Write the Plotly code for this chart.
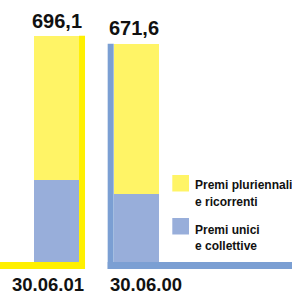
import plotly.graph_objects as go

# ---- data ----
categories = ["30.06.01", "30.06.00"]
premi_unici = [252.0, 209.0]            # blue, bottom segment
premi_pluriennali = [444.1, 462.6]      # yellow, top segment
totals = [696.1, 671.6]
legend_lines = [["Premi pluriennali", "e ricorrenti"], ["Premi unici", "e collettive"]]
series_names = ["Premi pluriennali e ricorrenti", "Premi unici e collettive"]

# ---- styles ----
YELLOW = "#FFF466"
BLUE = "#98AEDA"
ACC_YELLOW = "#FFF000"
ACC_BLUE = "#7B9FD3"
accents = [ACC_YELLOW, ACC_BLUE]
accent_side = [1, -1]          # strip on right of bar 1, left of bar 2
FONT = "Liberation Sans, Arial, sans-serif"

W, H = 292, 295
MB = 26
PH = H - MB
BAR_W = 0.565
XR = [-0.709, 2.955]
YR = [-21.5, 805.9]
PX_PER_X = W / (XR[1] - XR[0])
STRIP = 6 / PX_PER_X

fig = go.Figure()
fig.add_trace(go.Bar(x=categories, y=premi_unici, name=series_names[1],
                     marker=dict(color=BLUE, line=dict(width=0)), width=BAR_W,
                     showlegend=False))
fig.add_trace(go.Bar(x=categories, y=premi_pluriennali, name=series_names[0],
                     marker=dict(color=YELLOW, line=dict(width=0)), width=BAR_W,
                     showlegend=False))

shapes = []
for i, tot in enumerate(totals):
    if accent_side[i] > 0:
        sx0, sx1 = i + BAR_W / 2, i + BAR_W / 2 + STRIP
        lx0, lx1 = XR[0], sx1
    else:
        sx0, sx1 = i - BAR_W / 2 - STRIP, i - BAR_W / 2
        lx0, lx1 = sx0, XR[1]
    shapes.append(dict(type="rect", xref="x", yref="y", x0=sx0, x1=sx1, y0=YR[0], y1=tot,
                       fillcolor=accents[i], line=dict(width=0), layer="above"))
    shapes.append(dict(type="rect", xref="x", yref="y", x0=lx0, x1=lx1, y0=YR[0], y1=0,
                       fillcolor=accents[i], line=dict(width=0), layer="above"))

annotations = []
val_xshift = [0.5, -2]
lab_xshift = [-8.5, 10]
for i, tot in enumerate(totals):
    annotations.append(dict(x=i, y=tot, xref="x", yref="y", text=f"{tot:.1f}".replace(".", ","),
                            showarrow=False, yanchor="bottom", yshift=2.2, xshift=val_xshift[i],
                            font=dict(family=FONT, size=20, color="#111111", weight="bold")))
    annotations.append(dict(x=i, y=0, xref="x", yref="paper", text=categories[i],
                            showarrow=False, yanchor="top", yshift=-2.5, xshift=lab_xshift[i],
                            font=dict(family=FONT, size=18.5, color="#111111", weight="bold")))

# manual legend (square top px, baselines px)
leg = [(YELLOW, 175, [190.7, 207.7]), (BLUE, 218, [235, 251.7])]
LFS = 12
for (col, top, bases), lines in zip(leg, legend_lines):
    shapes.append(dict(type="rect", xref="paper", yref="paper",
                       x0=172.3 / W, x1=189 / W, y0=1 - (top + 16.5) / PH, y1=1 - top / PH,
                       fillcolor=col, line=dict(width=0)))
    for txt, b in zip(lines, bases):
        annotations.append(dict(x=193 / W, y=1 - (b + 0.212 * LFS + 1) / PH, xref="paper", yref="paper",
                                text=txt, showarrow=False, xanchor="left", yanchor="bottom", align="left",
                                font=dict(family=FONT, size=LFS, color="#111111", weight="bold")))

fig.update_layout(
    width=W, height=H, margin=dict(l=0, r=0, t=0, b=MB),
    paper_bgcolor="white", plot_bgcolor="white",
    barmode="stack", showlegend=False,
    xaxis=dict(type="category", range=XR, showticklabels=False, showgrid=False,
               zeroline=False, showline=False, ticks=""),
    yaxis=dict(range=YR, showticklabels=False, showgrid=False, zeroline=False,
               showline=False, ticks=""),
    shapes=shapes, annotations=annotations,
)
fig.write_html("out.html", config={"displayModeBar": False},
               post_script="document.body.style.margin='0';")
